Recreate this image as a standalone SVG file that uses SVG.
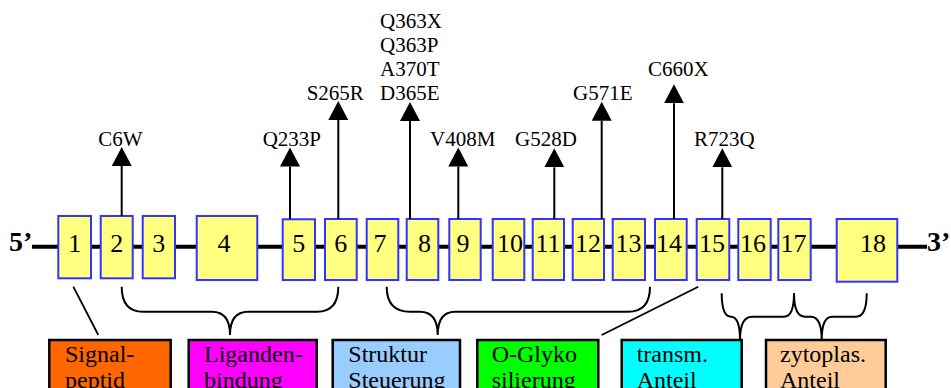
<svg xmlns="http://www.w3.org/2000/svg" width="951" height="388" viewBox="0 0 951 388" font-family="'Liberation Serif', 'DejaVu Serif', serif">
<style>
text{font-family:'Liberation Serif','DejaVu Serif',serif;fill:#000}
.ex rect{fill:#FFFF80;stroke:#3333FF;stroke-width:2}
.ex text{font-size:26px;text-anchor:middle}
.mut{font-size:21px}
.arr{stroke:#000;stroke-width:2;fill:none;marker-end:url(#ah)}
.br{stroke:#000;stroke-width:2;fill:none}
.dom rect{stroke:#000;stroke-width:2.5}
.dom text{font-size:24px}
.end{font-size:28px;font-weight:bold}
</style>
<defs>
<marker id="ah" viewBox="0 0 20 20" refX="0" refY="10" markerWidth="20" markerHeight="20" markerUnits="userSpaceOnUse" orient="auto">
<path d="M0,0 L19,10 L0,20 z" fill="#000"/>
</marker>
</defs>
<rect width="951" height="388" fill="#fff"/>
<g id="backbone">
<line x1="32" y1="246.7" x2="927" y2="246.7" stroke="#000" stroke-width="4"/>
<text class="end" x="9" y="251">5’</text>
<text class="end" x="927" y="251">3’</text>
</g>
<g id="exons" class="ex">
<g id="e1"><rect x="58.3" y="216" width="32.7" height="62.3"/><text x="74.7" y="252">1</text></g>
<g id="e2"><rect x="100.7" y="216" width="32" height="62.3"/><text x="116.7" y="252">2</text></g>
<g id="e3"><rect x="142.7" y="216" width="32.3" height="62.3"/><text x="158.8" y="252">3</text></g>
<g id="e4"><rect x="196.7" y="216" width="60.6" height="64"/><text x="224" y="252">4</text></g>
<g id="e5"><rect x="282.7" y="219.3" width="32.3" height="60.7"/><text x="298.8" y="252">5</text></g>
<g id="e6"><rect x="325" y="219" width="31.7" height="61"/><text x="340.8" y="252">6</text></g>
<g id="e7"><rect x="366.7" y="219" width="31.6" height="61"/><text x="380" y="252">7</text></g>
<g id="e8"><rect x="406.7" y="219" width="31.6" height="61"/><text x="424.5" y="252">8</text></g>
<g id="e9"><rect x="449.3" y="219" width="31.4" height="61"/><text x="463" y="252">9</text></g>
<g id="e10"><rect x="492.7" y="219" width="31.6" height="61"/><text x="510" y="252">10</text></g>
<g id="e11"><rect x="532.7" y="219" width="31.3" height="61"/><text x="548" y="252">11</text></g>
<g id="e12"><rect x="572.7" y="219" width="31.3" height="61"/><text x="588" y="252">12</text></g>
<g id="e13"><rect x="612.7" y="219" width="32.3" height="61"/><text x="628.5" y="252">13</text></g>
<g id="e14"><rect x="655" y="219" width="31.7" height="61"/><text x="669" y="252">14</text></g>
<g id="e15"><rect x="696.7" y="219" width="32.6" height="61"/><text x="712" y="252">15</text></g>
<g id="e16"><rect x="738.3" y="219" width="32.4" height="61"/><text x="753" y="252">16</text></g>
<g id="e17"><rect x="778.3" y="219" width="32.4" height="61"/><text x="793.5" y="252">17</text></g>
<g id="e18"><rect x="836.7" y="219" width="60.6" height="62.7"/><text x="873" y="252">18</text></g>
</g>
<g id="connectors">
<line class="arr" x1="121.7" y1="216" x2="121.7" y2="166"/>
<line class="arr" x1="290" y1="219" x2="290" y2="166.5"/>
<line class="arr" x1="338.3" y1="219" x2="338.3" y2="120"/>
<line class="arr" x1="410" y1="219" x2="410" y2="121"/>
<line class="arr" x1="458.3" y1="219" x2="458.3" y2="166.5"/>
<line class="arr" x1="554.3" y1="219" x2="554.3" y2="167.3"/>
<line class="arr" x1="601.7" y1="219" x2="601.7" y2="120.7"/>
<line class="arr" x1="674" y1="219" x2="674" y2="103.3"/>
<line class="arr" x1="722.3" y1="219" x2="722.3" y2="167.3"/>
<line x1="73.3" y1="286.7" x2="98.3" y2="335" stroke="#000" stroke-width="1.8"/>
<line x1="601.7" y1="335" x2="698.3" y2="286.7" stroke="#000" stroke-width="1.8"/>
<path class="br" d="M121.7,286.7 Q121.7,311.7 143,311.7 L212,311.7 Q230,311.7 230,335 Q230,311.7 248,311.7 L317,311.7 Q338.3,311.7 338.3,286.7"/>
<path class="br" d="M386.7,286.7 Q386.7,311.7 410,311.7 L420,311.7 Q437.7,311.7 437.7,335 Q437.7,311.7 455,311.7 L628,311.7 Q650,311.7 650,286.7"/>
<path class="br" d="M721.7,293.3 Q721.7,316.7 731,316.7 Q740,316.7 740,340 Q740,316.7 752,316.7 L784,316.7 Q794,316.7 794,293.3"/>
<path class="br" d="M794,293.3 Q794,316.7 805,316.7 L811,316.7 Q821.7,316.7 821.7,340 Q821.7,316.7 832,316.7 L856,316.7 Q866.7,316.7 866.7,293.3"/>
</g>
<g id="mutations" class="mut">
<text class="mut" x="98.3" y="146">C6W</text>
<text class="mut" x="262.7" y="146">Q233P</text>
<text class="mut" x="306.7" y="99.5">S265R</text>
<text class="mut" x="380" y="28.3">Q363X</text>
<text class="mut" x="380" y="52">Q363P</text>
<text class="mut" x="380" y="75.7">A370T</text>
<text class="mut" x="380" y="99.5">D365E</text>
<text class="mut" x="430" y="146">V408M</text>
<text class="mut" x="515" y="146">G528D</text>
<text class="mut" x="573" y="99.5">G571E</text>
<text class="mut" x="648" y="76">C660X</text>
<text class="mut" x="694" y="146">R723Q</text>
</g>
<g class="dom">
<g id="d-signal"><rect x="49.3" y="340" width="121.4" height="60" fill="#FF6600"/><text x="65" y="361.7">Signal-</text><text x="65" y="388">peptid</text></g>
<g id="d-ligand"><rect x="188.7" y="340" width="128" height="60" fill="#FF00FF"/><text x="204" y="361.7">Liganden-</text><text x="204" y="388">bindung</text></g>
<g id="d-struktur"><rect x="332.7" y="340" width="127.3" height="60" fill="#99CCFF"/><text x="348.3" y="361.7">Struktur</text><text x="348.3" y="388">Steuerung</text></g>
<g id="d-oglyko"><rect x="477.3" y="340" width="121" height="60" fill="#00FF00"/><text x="491.7" y="361.7">O-Glyko</text><text x="491.7" y="388">silierung</text></g>
<g id="d-transm"><rect x="621.7" y="340" width="120" height="60" fill="#00FFFF"/><text x="636.7" y="361.7">transm.</text><text x="636.7" y="388">Anteil</text></g>
<g id="d-zyto"><rect x="766" y="340" width="119.7" height="60" fill="#FFCC99"/><text x="780" y="361.7">zytoplas.</text><text x="780" y="388">Anteil</text></g>
</g>
</svg>
